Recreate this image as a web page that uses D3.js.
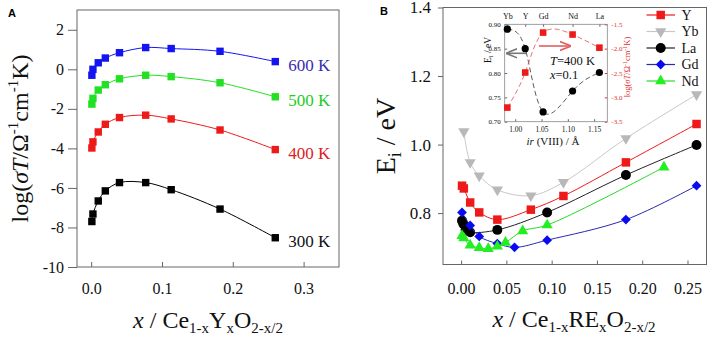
<!doctype html>
<html lang="en">
<head>
<meta charset="utf-8">
<title>Conductivity and activation energy</title>
<script src="https://d3js.org/d3.v7.min.js"></script>
<style>
  body { margin: 0; background: #fff; }
</style>
</head>
<body>
<div id="chart"></div>
<script>
var width = 708, height = 341;
var serif = '"Liberation Serif", "Times New Roman", Times, serif';

// ---- panel A data : log(sigma T) vs x, Ce1-xYxO2-x/2
var xA = [0.001, 0.0025, 0.01, 0.02, 0.04, 0.077, 0.113, 0.182, 0.26];
var tempLabels = ['600 K', '500 K', '400 K', '300 K'];
var k600 = [-0.30, 0.00, 0.33, 0.57, 0.84, 1.10, 1.05, 0.91, 0.39];
var k500 = [-1.76, -1.47, -1.05, -0.78, -0.48, -0.30, -0.37, -0.68, -1.39];
var k400 = [-3.98, -3.67, -3.17, -2.78, -2.44, -2.32, -2.51, -3.07, -4.06];
var k300 = [-7.70, -7.32, -6.66, -6.15, -5.73, -5.73, -6.09, -7.07, -8.52];
var ticksAx = [0.0, 0.1, 0.2, 0.3];
var ticksAy = [-10, -8, -6, -4, -2, 0, 2];

// ---- panel B data : Ei vs x, Ce1-xRExO2-x/2
var dopants = ['Y', 'Yb', 'La', 'Gd', 'Nd'];
var xY  = [0.001, 0.003, 0.01, 0.02, 0.04, 0.077, 0.113, 0.182, 0.26];
var eY  = [0.880, 0.872, 0.831, 0.802, 0.781, 0.810, 0.850, 0.948, 1.060];
var xYb = [0.003, 0.01, 0.02, 0.04, 0.077, 0.113, 0.182, 0.26];
var eYb = [1.038, 0.948, 0.909, 0.868, 0.851, 0.890, 1.018, 1.146];
var xLa = [0.001, 0.0025, 0.005, 0.01, 0.04, 0.095, 0.182, 0.26];
var eLa = [0.778, 0.768, 0.751, 0.744, 0.751, 0.802, 0.911, 0.999];
var xGd = [0.001, 0.01, 0.02, 0.04, 0.059, 0.095, 0.182, 0.26];
var eGd = [0.802, 0.764, 0.732, 0.711, 0.700, 0.721, 0.781, 0.880];
var xNd = [0.001, 0.003, 0.01, 0.02, 0.03, 0.04, 0.049, 0.068, 0.095, 0.224];
var eNd = [0.734, 0.727, 0.706, 0.699, 0.696, 0.703, 0.714, 0.748, 0.765, 0.934];
var ticksBx = [0.00, 0.05, 0.10, 0.15, 0.20, 0.25];
var ticksBy = [0.8, 1.0, 1.2, 1.4];

// ---- inset data : T = 400 K, x = 0.1
var insetEl = ['Yb', 'Y', 'Gd', 'Nd', 'La'];
var insetIr = [0.985, 1.019, 1.053, 1.109, 1.16];
var insetEi = [0.890, 0.850, 0.720, 0.763, 0.801];
var insetLog = [-3.21, -2.49, -1.67, -1.71, -1.98];
var insetTicksX = [1.00, 1.05, 1.10, 1.15];
var insetTicksL = [0.70, 0.75, 0.80, 0.85, 0.90];
var insetTicksR = [-3.5, -3.0, -2.5, -2.0, -1.5];

var svg = d3.select('#chart').append('svg')
  .attr('width', width).attr('height', height);

var frameColor = '#666';

// plain hyphen instead of d3's unicode minus
function fmt(spec) {
  var f = d3.format(spec);
  return function(d) { return f(d).replace('\u2212', '-'); };
}

function styleAxis(g, size) {
  g.attr('font-family', null).attr('font-size', null);
  g.select('.domain').remove();
  g.selectAll('line').attr('stroke', frameColor);
  g.selectAll('text').attr('fill', '#111')
    .style('font-size', size + 'px').style('font-family', serif);
}

// ================= PANEL A =================
var A = { l: 77, t: 10, r: 339, b: 267 };
var xa = d3.scaleLinear().domain([-0.02, 0.35]).range([A.l, A.r]);
var ya = d3.scaleLinear().domain([-10, 3]).range([A.b, A.t]);

svg.append('g').attr('transform', 'translate(' + A.l + ',0)')
  .call(d3.axisLeft(ya).tickValues(ticksAy).tickSize(9).tickPadding(4).tickFormat(fmt('d')))
  .call(styleAxis, 16);
svg.append('g').attr('transform', 'translate(0,' + A.b + ')')
  .call(d3.axisBottom(xa).tickValues(ticksAx).tickSize(-5).tickPadding(16).tickFormat(fmt('.1f')))
  .call(styleAxis, 16);
svg.append('rect').attr('x', A.l).attr('y', A.t)
  .attr('width', A.r - A.l).attr('height', A.b - A.t)
  .attr('fill', 'none').attr('stroke', frameColor).attr('stroke-width', 1);

var seriesA = [k600, k500, k400, k300];
var colorsA = ['#1414f0', '#22e022', '#ee1a1a', '#000'];
var labelColA = ['#3a2db0', '#22cc22', '#dd2020', '#111'];
var lineA = d3.line().curve(d3.curveCatmullRom.alpha(0.5))
  .x(function(d) { return xa(d[0]); }).y(function(d) { return ya(d[1]); });

seriesA.forEach(function(vals, s) {
  var pts = xA.map(function(x, i) { return [x, vals[i]]; });
  svg.append('path').datum(pts).attr('d', lineA)
    .attr('fill', 'none').attr('stroke', colorsA[s]).attr('stroke-width', 1);
  svg.selectAll('.sqA' + s).data(pts).enter().append('rect')
    .attr('x', function(d) { return xa(d[0]) - 3.7; })
    .attr('y', function(d) { return ya(d[1]) - 3.7; })
    .attr('width', 7.4).attr('height', 7.4).attr('fill', colorsA[s]);
  var last = pts[pts.length - 1];
  svg.append('text').attr('x', xa(last[0]) + 13).attr('y', ya(last[1]) + 9)
    .style('font-family', serif).style('font-size', '17px')
    .attr('fill', labelColA[s]).text(tempLabels[s]);
});

svg.append('text').attr('x', 8).attr('y', 17)
  .style('font-size', '11px').attr('font-weight', 'bold')
  .style('font-family', '"Liberation Sans", Arial, sans-serif').text('A');

// y title A
var tA = svg.append('text').attr('transform', 'translate(28,' + (A.t + A.b) / 2 + ') rotate(-90)')
  .attr('text-anchor', 'middle').style('font-family', serif).style('font-size', '24px').attr('fill', '#111');
tA.append('tspan').text('log(');
tA.append('tspan').attr('font-style', 'italic').text('σT');
tA.append('tspan').text('/Ω');
tA.append('tspan').style('font-size', '15px').attr('dy', -10).text('-1');
tA.append('tspan').attr('dy', 10).text('cm');
tA.append('tspan').style('font-size', '15px').attr('dy', -10).text('-1');
tA.append('tspan').attr('dy', 10).text('K)');

// x title A
var xtA = svg.append('text').attr('x', 208).attr('y', 328)
  .attr('text-anchor', 'middle').style('font-family', serif).style('font-size', '24px').attr('fill', '#111');
xtA.append('tspan').attr('font-style', 'italic').text('x');
xtA.append('tspan').text(' / Ce');
xtA.append('tspan').style('font-size', '15px').attr('dy', 5).text('1-x');
xtA.append('tspan').attr('dy', -5).text('Y');
xtA.append('tspan').style('font-size', '15px').attr('dy', 5).text('x');
xtA.append('tspan').attr('dy', -5).text('O');
xtA.append('tspan').style('font-size', '15px').attr('dy', 5).text('2-x/2');

// ================= PANEL B =================
var B = { l: 443, t: 7.5, r: 706.5, b: 264.5 };
var xb = d3.scaleLinear().domain([-0.02, 0.271]).range([B.l, B.r]);
var yb = d3.scaleLinear().domain([0.65, 1.4]).range([B.b, B.t]);

svg.append('g').attr('transform', 'translate(' + B.l + ',0)')
  .call(d3.axisLeft(yb).tickValues(ticksBy).tickSize(5).tickPadding(7).tickFormat(fmt('.1f')))
  .call(styleAxis, 17);
svg.append('g').attr('transform', 'translate(0,' + B.b + ')')
  .call(d3.axisBottom(xb).tickValues(ticksBx).tickSize(-4).tickPadding(18).tickFormat(fmt('.2f')))
  .call(styleAxis, 16);
svg.append('rect').attr('x', B.l).attr('y', B.t)
  .attr('width', B.r - B.l).attr('height', B.b - B.t)
  .attr('fill', 'none').attr('stroke', frameColor).attr('stroke-width', 1);

var seriesB = [
  { name: 'Y',  xs: xY,  es: eY,  color: '#ee1a1a', line: '#ee1a1a', shape: 'square' },
  { name: 'Yb', xs: xYb, es: eYb, color: '#b8b8b8', line: '#c8c8c8', shape: 'tridown' },
  { name: 'La', xs: xLa, es: eLa, color: '#000',    line: '#222',    shape: 'circle' },
  { name: 'Gd', xs: xGd, es: eGd, color: '#0a0af0', line: '#2a2ab0', shape: 'diamond' },
  { name: 'Nd', xs: xNd, es: eNd, color: '#22ee22', line: '#22dd22', shape: 'triup' }
];

function marker(shape) {
  if (shape === 'square') return d3.symbol().type(d3.symbolSquare).size(72)();
  if (shape === 'circle') return d3.symbol().type(d3.symbolCircle).size(78)();
  if (shape === 'diamond') return d3.symbol().type(d3.symbolSquare).size(48)();
  return d3.symbol().type(d3.symbolTriangle).size(54)();
}
function markerRot(shape) {
  if (shape === 'diamond') return ' rotate(45)';
  if (shape === 'tridown') return ' rotate(180)';
  return '';
}

var lineB = d3.line().curve(d3.curveCatmullRom.alpha(0.5))
  .x(function(d) { return xb(d[0]); }).y(function(d) { return yb(d[1]); });

seriesB.forEach(function(s) {
  var pts = s.xs.map(function(x, i) { return [x, s.es[i]]; });
  svg.append('path').datum(pts).attr('d', lineB)
    .attr('fill', 'none').attr('stroke', s.line).attr('stroke-width', 1);
  svg.selectAll('.mk' + s.name).data(pts).enter().append('path')
    .attr('d', marker(s.shape))
    .attr('transform', function(d) { return 'translate(' + xb(d[0]) + ',' + yb(d[1]) + ')' + markerRot(s.shape); })
    .attr('fill', s.color);
});

// legend
var legY0 = 15, legStep = 16.5;
seriesB.forEach(function(s, i) {
  var y = legY0 + i * legStep;
  svg.append('line').attr('x1', 646.5).attr('x2', 675).attr('y1', y).attr('y2', y)
    .attr('stroke', s.line).attr('stroke-width', 1.2);
  svg.append('path').attr('d', marker(s.shape))
    .attr('transform', 'translate(660.7,' + y + ')' + markerRot(s.shape))
    .attr('fill', s.color);
  svg.append('text').attr('x', 681.5).attr('y', y + 4.5)
    .style('font-family', serif).style('font-size', '14px').attr('fill', '#111').text(s.name);
});

svg.append('text').attr('x', 380).attr('y', 15)
  .style('font-size', '11px').attr('font-weight', 'bold')
  .style('font-family', '"Liberation Sans", Arial, sans-serif').text('B');

// y title B
var tB = svg.append('text').attr('transform', 'translate(395,136) rotate(-90)')
  .attr('text-anchor', 'middle').style('font-family', serif).style('font-size', '28px').attr('fill', '#111');
tB.append('tspan').text('E');
tB.append('tspan').style('font-size', '18px').attr('dy', 6).text('i');
tB.append('tspan').attr('dy', -6).text(' / eV');

// x title B
var xtB = svg.append('text').attr('x', 574).attr('y', 327)
  .attr('text-anchor', 'middle').style('font-family', serif).style('font-size', '24px').attr('fill', '#111');
xtB.append('tspan').attr('font-style', 'italic').text('x');
xtB.append('tspan').text(' / Ce');
xtB.append('tspan').style('font-size', '15px').attr('dy', 5).text('1-x');
xtB.append('tspan').attr('dy', -5).text('RE');
xtB.append('tspan').style('font-size', '15px').attr('dy', 5).text('x');
xtB.append('tspan').attr('dy', -5).text('O');
xtB.append('tspan').style('font-size', '15px').attr('dy', 5).text('2-x/2');

// ================= INSET =================
var I = { l: 504.7, t: 24.3, r: 607.3, b: 121.7 };
var xi = d3.scaleLinear().domain([0.98, 1.175]).range([I.l, I.r]);
var yiL = d3.scaleLinear().domain([0.70, 0.90]).range([I.b, I.t]);
var yiR = d3.scaleLinear().domain([-3.5, -1.5]).range([I.b, I.t]);

var ins = svg.append('g');
ins.append('g').attr('transform', 'translate(' + I.l + ',0)')
  .call(d3.axisLeft(yiL).tickValues(insetTicksL).tickSize(-2.5).tickPadding(4).tickFormat(fmt('.2f')))
  .call(styleAxis, 7);
ins.append('g').attr('transform', 'translate(' + I.r + ',0)')
  .call(d3.axisRight(yiR).tickValues(insetTicksR).tickSize(-2.5).tickPadding(4).tickFormat(fmt('.1f')))
  .call(styleAxis, 7)
  .call(function(g) { g.selectAll('text').attr('fill', '#e03030'); g.selectAll('line').attr('stroke', '#e03030'); });
ins.append('g').attr('transform', 'translate(0,' + I.b + ')')
  .call(d3.axisBottom(xi).tickValues(insetTicksX).tickSize(-2.5).tickPadding(5).tickFormat(fmt('.2f')))
  .call(styleAxis, 7.5);
ins.append('g').attr('transform', 'translate(0,' + I.t + ')')
  .call(d3.axisTop(xi).tickValues(insetIr).tickSize(-2.5).tickPadding(5).tickFormat(function(d, i) { return insetEl[i]; }))
  .call(styleAxis, 8);
ins.append('rect').attr('x', I.l).attr('y', I.t)
  .attr('width', I.r - I.l).attr('height', I.b - I.t)
  .attr('fill', 'none').attr('stroke', '#888').attr('stroke-width', 0.8);

var eiPts = insetIr.map(function(r, i) { return [r, insetEi[i]]; });
var logPts = insetIr.map(function(r, i) { return [r, insetLog[i]]; });

ins.append('path').datum(eiPts)
  .attr('d', d3.line().curve(d3.curveNatural).x(function(d) { return xi(d[0]); }).y(function(d) { return yiL(d[1]); }))
  .attr('fill', 'none').attr('stroke', '#333').attr('stroke-width', 0.8).attr('stroke-dasharray', '5,3');
ins.append('path').datum(logPts)
  .attr('d', d3.line().curve(d3.curveNatural).x(function(d) { return xi(d[0]); }).y(function(d) { return yiR(d[1]); }))
  .attr('fill', 'none').attr('stroke', '#e05050').attr('stroke-width', 0.8).attr('stroke-dasharray', '5,3');

ins.selectAll('.ei').data(eiPts).enter().append('circle')
  .attr('cx', function(d) { return xi(d[0]); }).attr('cy', function(d) { return yiL(d[1]); })
  .attr('r', 3.6).attr('fill', '#000');
ins.selectAll('.lg').data(logPts).enter().append('rect')
  .attr('x', function(d) { return xi(d[0]) - 3.3; }).attr('y', function(d) { return yiR(d[1]) - 3.3; })
  .attr('width', 6.6).attr('height', 6.6).attr('fill', '#ee1a1a');

// arrows
var defs = svg.append('defs');
function arrowHead(id, color) {
  defs.append('marker').attr('id', id).attr('viewBox', '0 0 10 10')
    .attr('refX', 9).attr('refY', 5).attr('markerWidth', 7).attr('markerHeight', 7)
    .attr('orient', 'auto-start-reverse')
    .append('path').attr('d', 'M0,1 L10,5 L0,9').attr('fill', 'none').attr('stroke', color).attr('stroke-width', 1.4);
}
arrowHead('arG', '#777');
arrowHead('arR', '#e06060');
ins.append('line').attr('x1', 526).attr('x2', 507).attr('y1', 53.3).attr('y2', 53.3)
  .attr('stroke', '#777').attr('stroke-width', 1.6).attr('marker-end', 'url(#arG)');
ins.append('line').attr('x1', 539).attr('x2', 570).attr('y1', 46).attr('y2', 46)
  .attr('stroke', '#e06060').attr('stroke-width', 1.6).attr('marker-end', 'url(#arR)');

// annotations
var tt = ins.append('text').attr('x', 550).attr('y', 65)
  .style('font-family', serif).style('font-size', '12.5px').attr('fill', '#111');
tt.append('tspan').attr('font-style', 'italic').text('T');
tt.append('tspan').text('=400 K');
var tx = ins.append('text').attr('x', 550).attr('y', 78.5)
  .style('font-family', serif).style('font-size', '12.5px').attr('fill', '#111');
tx.append('tspan').attr('font-style', 'italic').text('x');
tx.append('tspan').text('=0.1');

// inset titles
var il = ins.append('text').attr('transform', 'translate(491,50) rotate(-90)')
  .attr('text-anchor', 'middle').style('font-family', serif).style('font-size', '9.5px').attr('fill', '#111');
il.append('tspan').text('E');
il.append('tspan').style('font-size', '6.5px').attr('dy', 2).text('i');
il.append('tspan').attr('dy', -2).text(' / eV');

var ir = ins.append('text').attr('transform', 'translate(630,67) rotate(-90)')
  .attr('text-anchor', 'middle').style('font-family', serif).style('font-size', '8.5px').attr('fill', '#e03030');
ir.append('tspan').text('log(');
ir.append('tspan').attr('font-style', 'italic').text('σT');
ir.append('tspan').text('/Ω');
ir.append('tspan').style('font-size', '6px').attr('dy', -3).text('-1');
ir.append('tspan').attr('dy', 3).text('cm');
ir.append('tspan').style('font-size', '6px').attr('dy', -3).text('-1');
ir.append('tspan').attr('dy', 3).text('K)');

var ib = ins.append('text').attr('x', 553).attr('y', 145).attr('text-anchor', 'middle')
  .style('font-family', serif).style('font-size', '11px').attr('fill', '#111');
ib.append('tspan').attr('font-style', 'italic').text('ir');
ib.append('tspan').text('  (VIII) / Å');
</script>
</body>
</html>
